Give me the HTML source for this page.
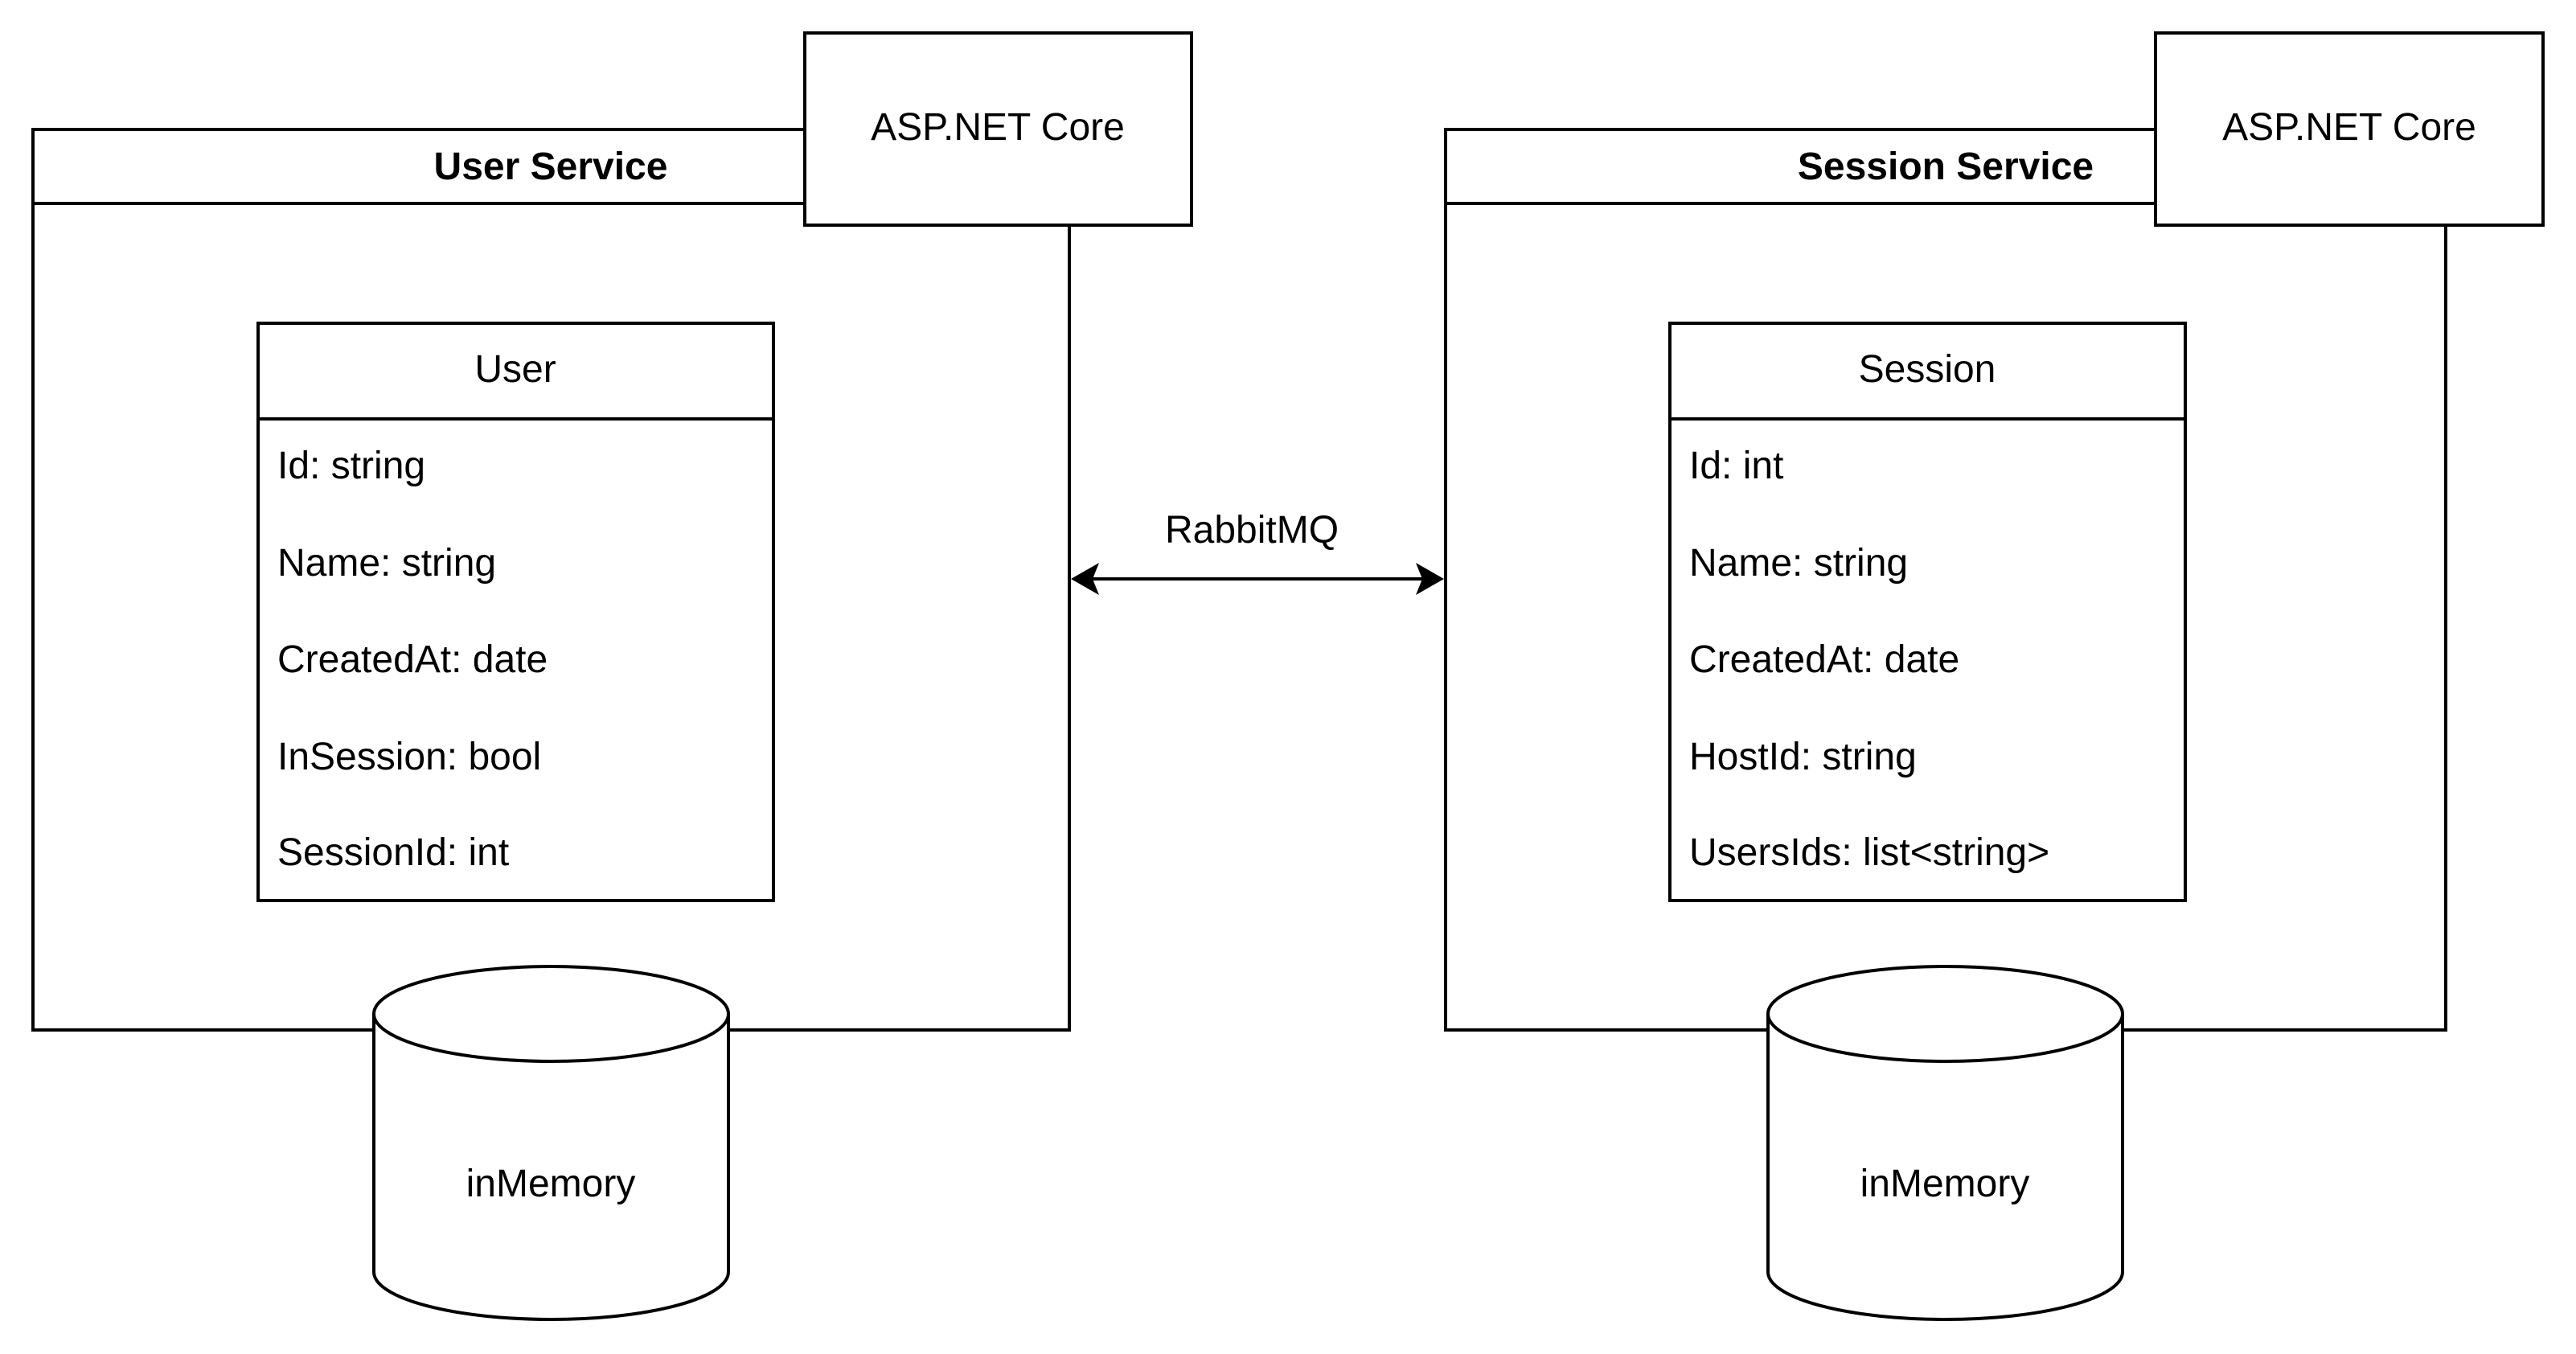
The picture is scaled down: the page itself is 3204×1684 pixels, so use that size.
<!DOCTYPE html>
<html><head><style>html,body{margin:0;padding:0;background:#fff}svg{display:block}text{font-family:"Liberation Sans",Arial,sans-serif;fill:#000}</style></head><body>
<svg width="3204" height="1684" viewBox="0 0 3204 1684" xmlns="http://www.w3.org/2000/svg">
<g fill="none" stroke="#000" stroke-width="4">
<rect x="41" y="161" width="1289" height="1120" fill="#fff"/>
<line x1="41" y1="253" x2="1330" y2="253"/>
<rect x="321" y="402" width="641" height="718" fill="#fff"/>
<line x1="321" y1="521" x2="962" y2="521"/>
<rect x="1001" y="41" width="481" height="239" fill="#fff"/>
<path d="M465 1261 L465 1582 A220.5 59 0 0 0 906 1582 L906 1261" fill="#fff"/>
<ellipse cx="685.5" cy="1261" rx="220.5" ry="59" fill="#fff"/>
<rect x="1798" y="161" width="1244" height="1120" fill="#fff"/>
<line x1="1798" y1="253" x2="3042" y2="253"/>
<rect x="2077" y="402" width="641" height="718" fill="#fff"/>
<line x1="2077" y1="521" x2="2718" y2="521"/>
<rect x="2681" y="41" width="482" height="239" fill="#fff"/>
<path d="M2199 1261 L2199 1582 A220.5 59 0 0 0 2640 1582 L2640 1261" fill="#fff"/>
<ellipse cx="2419.5" cy="1261" rx="220.5" ry="59" fill="#fff"/>
<line x1="1350" y1="720" x2="1778" y2="720"/>
</g>
<path d="M1332 720 L1367 700 L1359 720 L1367 740 Z" fill="#000"/>
<path d="M1796 720 L1761 700 L1769 720 L1761 740 Z" fill="#000"/>
<g font-size="48">
<text x="685" y="223" text-anchor="middle" font-weight="bold">User Service</text>
<text x="2420" y="223" text-anchor="middle" font-weight="bold">Session Service</text>
<text x="1241" y="174" text-anchor="middle">ASP.NET Core</text>
<text x="2922" y="174" text-anchor="middle">ASP.NET Core</text>
<text x="641" y="475" text-anchor="middle">User</text>
<text x="2397" y="475" text-anchor="middle">Session</text>
<text x="345" y="595">Id: string</text>
<text x="345" y="716">Name: string</text>
<text x="345" y="836">CreatedAt: date</text>
<text x="345" y="957">InSession: bool</text>
<text x="345" y="1076">SessionId: int</text>
<text x="2101" y="595">Id: int</text>
<text x="2101" y="716">Name: string</text>
<text x="2101" y="836">CreatedAt: date</text>
<text x="2101" y="957">HostId: string</text>
<text x="2101" y="1076">UsersIds: list&lt;string&gt;</text>
<text x="685" y="1488" text-anchor="middle">inMemory</text>
<text x="2419" y="1488" text-anchor="middle">inMemory</text>
<text x="1557" y="675" text-anchor="middle">RabbitMQ</text>
</g>
</svg>
</body></html>
